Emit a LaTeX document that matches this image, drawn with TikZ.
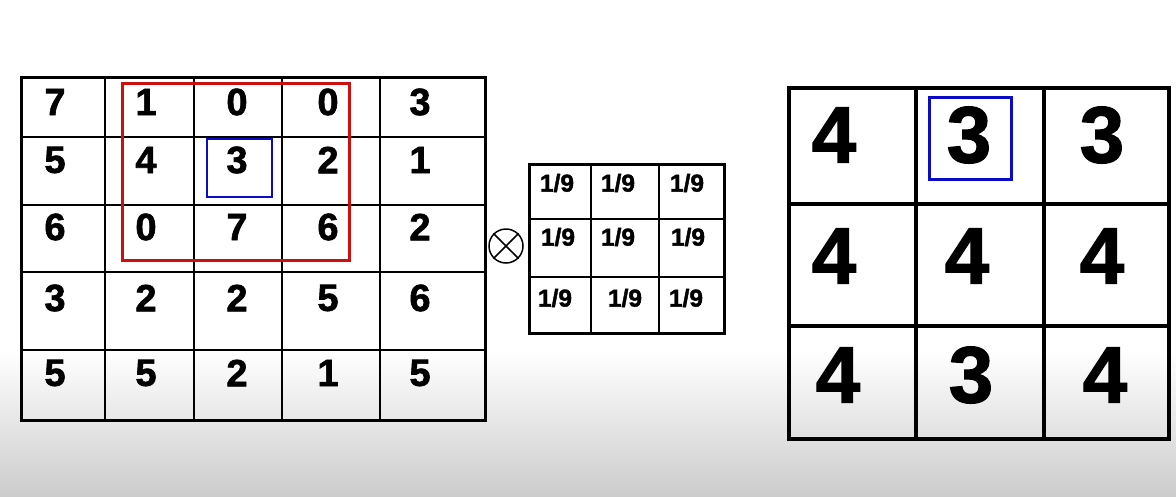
\documentclass[tikz,border=0pt]{standalone}
\usepackage{fontspec}
\setmainfont{Liberation Sans}[BoldFont={Liberation Sans Bold}]
\newfontfamily\numfont{Liberation Sans Bold}[FakeBold=1.6]
\begin{document}
\begin{tikzpicture}[x=1pt,y=-1pt,
  bignum/.style={inner sep=0pt,font=\numfont\fontsize{38}{40}\selectfont},
  kernum/.style={inner sep=0pt,font=\numfont\fontsize{24.5}{26}\selectfont},
  resnum/.style={inner sep=0pt,font=\numfont\fontsize{80}{82}\selectfont},
  thinline/.style={line width=2.3pt,black},
  thickline/.style={line width=3pt,black},
  heavyline/.style={line width=4pt,black},
  redbox/.style={line width=3pt,draw={rgb,255:red,205;green,15;blue,15}},
  bluebox/.style={line width=3pt,draw={rgb,255:red,10;green,10;blue,200}}]
\useasboundingbox (0,0) rectangle (1176,496);
\fill[white] (0,0) rectangle (1176,352);
\shade[top color=white,bottom color=black!20] (0,350) rectangle (1176,496);

% ---- left 5x5 grid ----
\foreach \x in {105,194,282,380} \draw[thinline] (\x,77) -- (\x,420);
\foreach \y in {137,205,272,350} \draw[thinline] (21,\y) -- (485,\y);
\draw[thickline] (21,77) rectangle (485,420);

\foreach \r/\y/\vals in {1/102/{7,1,0,0,3},2/160/{5,4,3,2,1},3/227/{6,0,7,6,2},4/298/{3,2,2,5,6},5/373/{5,5,2,1,5}}{
  \foreach \v [count=\c] in \vals {
    \pgfmathsetmacro{\xx}{{55,146,237,328,420}[\c-1]}
    \node[bignum] (a\r\c) at (\xx,\y) {\v};
  }
}
\draw[redbox] (122,83) rectangle (349,260);
\draw[bluebox,line width=2.5pt] (207,139) rectangle (272,197);

% ---- convolution symbol ----
\node[draw,circle,line width=1.5pt,minimum size=34pt,inner sep=0pt] (ot) at (506,246) {};
\draw[line width=1.5pt] (ot.45) -- (ot.225);
\draw[line width=1.5pt] (ot.135) -- (ot.-45);

% ---- kernel 3x3 ----
\foreach \x in {591,659} \draw[thinline] (\x,164) -- (\x,333);
\foreach \y in {219,277} \draw[thinline] (529,\y) -- (724,\y);
\draw[thickline] (529,164) rectangle (724,333);
\node[kernum] (k11) at (557,183) {1/9};
\node[kernum] (k12) at (618,183) {1/9};
\node[kernum] (k13) at (687,183) {1/9};
\node[kernum] (k21) at (558,237) {1/9};
\node[kernum] (k22) at (618,237) {1/9};
\node[kernum] (k23) at (688,237) {1/9};
\node[kernum] (k31) at (555,298) {1/9};
\node[kernum] (k32) at (625,298) {1/9};
\node[kernum] (k33) at (686,298) {1/9};

% ---- result 3x3 ----
\foreach \x in {916,1044} \draw[heavyline] (\x,88) -- (\x,439);
\foreach \y in {204,326} \draw[heavyline] (789,\y) -- (1169,\y);
\draw[heavyline] (789,88) rectangle (1169,439);
\node[resnum] (r11) at (834,135) {4};
\node[resnum] (r12) at (969,135) {3};
\node[resnum] (r13) at (1102,135) {3};
\node[resnum] (r21) at (834,256) {4};
\node[resnum] (r22) at (967,256) {4};
\node[resnum] (r23) at (1102,256) {4};
\node[resnum] (r31) at (838,375) {4};
\node[resnum] (r32) at (971,375) {3};
\node[resnum] (r33) at (1105,375) {4};
\draw[bluebox] (929,97) rectangle (1011,179);
\end{tikzpicture}
\end{document}
